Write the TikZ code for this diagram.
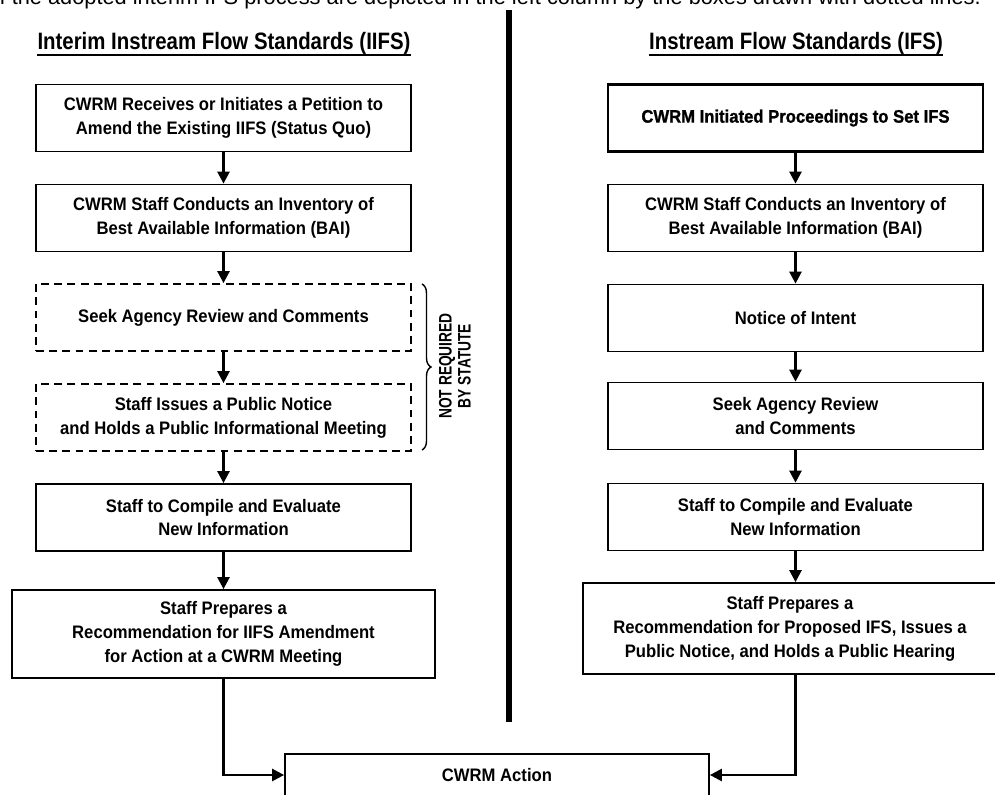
\documentclass[tikz,border=0pt]{standalone}
\usepackage{fontspec}
\setmainfont{Liberation Sans}[FakeStretch=0.92]
\newfontfamily\titlefont{Liberation Sans}[FakeStretch=0.86]
\newfontfamily\narrowfont{Liberation Sans}[FakeStretch=0.76]
\newfontfamily\heavyfont{Liberation Sans}[FakeStretch=0.92, FakeBold=1.2]
\newfontfamily\plainfont{Liberation Sans}
\usetikzlibrary{arrows.meta, decorations.pathreplacing}

\begin{document}
\begin{tikzpicture}[
    x=0.2mm, y=-0.2mm,
    every node/.style={font=\bfseries\fontsize{10.3}{13.6}\selectfont, align=center},
    % Process box
    box/.style={draw, line width=1pt, minimum width=75mm, minimum height=13.4mm, inner sep=0pt},
    % Step not required by statute
    dashbox/.style={box, dash pattern=on 4.5pt off 3pt},
    % Flow arrow
    arrow/.style={-{Triangle[length=2.4mm, width=2.4mm]}, line width=1.4pt},
    heading/.style={font=\titlefont\bfseries\fontsize{13.5}{16}\selectfont, anchor=base, inner sep=0pt},
    underline/.style={line width=0.9pt}
]
\useasboundingbox (0,0) rectangle (995,795);

% === CUT-OFF TEXT LINE AT THE TOP ===
\node[font=\plainfont\fontsize{12.4}{14}\selectfont, anchor=base east] (caption) at (987,5)
    {of the adopted interim IFS process are depicted in the left column by the boxes drawn with dotted lines.};

% === COLUMN DIVIDER ===
\coordinate (divtop) at (509,10);
\coordinate (divbot) at (509,722);
\draw[line width=3.4pt] (divtop) -- (divbot);

% === LEFT COLUMN: IIFS ===
\node[heading] (titleL) at (224,50) {Interim Instream Flow Standards (IIFS)};
\draw[underline] ([yshift=-3pt]titleL.base west) -- ([yshift=-3pt]titleL.base east);

\node[box] (L1) at (223.5,118) {CWRM Receives or Initiates a Petition to\\Amend the Existing IIFS (Status Quo)};
\node[box] (L2) at (223.5,218) {CWRM Staff Conducts an Inventory of\\Best Available Information (BAI)};
\node[dashbox] (L3) at (223.5,317.5) {Seek Agency Review and Comments};
\node[dashbox] (L4) at (223.5,417.5) {Staff Issues a Public Notice\\and Holds a Public Informational Meeting};
\node[box] (L5) at (223.5,517.5) {Staff to Compile and Evaluate\\New Information};
\node[box, minimum width=84.6mm, minimum height=17.6mm] (L6) at (223.5,634)
    {Staff Prepares a\\Recommendation for IIFS Amendment\\for Action at a CWRM Meeting};

% Brace for the two optional steps
\coordinate (bracetop) at (422,284);
\coordinate (bracebot) at (422,450);
\draw[line width=0.8pt, decorate, decoration={brace, amplitude=1.8mm}] (bracetop) -- (bracebot);
\node[font=\narrowfont\bfseries\fontsize{10.3}{10.8}\selectfont, rotate=90] (statute) at (455,366)
    {NOT REQUIRED\\BY STATUTE};

% === RIGHT COLUMN: IFS ===
\node[heading] (titleR) at (796,50) {Instream Flow Standards (IFS)};
\draw[underline] ([yshift=-3pt]titleR.base west) -- ([yshift=-3pt]titleR.base east);

\node[box, line width=1.5pt, font=\heavyfont\bfseries\fontsize{10.3}{13.6}\selectfont] (R1) at (795.5,118)
    {CWRM Initiated Proceedings to Set IFS};
\node[box] (R2) at (795.5,218) {CWRM Staff Conducts an Inventory of\\Best Available Information (BAI)};
\node[box] (R3) at (795.5,318) {Notice of Intent};
\node[box] (R4) at (795.5,416) {Seek Agency Review\\and Comments};
\node[box] (R5) at (795.5,517) {Staff to Compile and Evaluate\\New Information};
\node[box, minimum width=82.8mm, minimum height=18.2mm] (R6) at (790,628.5)
    {Staff Prepares a\\Recommendation for Proposed IFS, Issues a\\Public Notice, and Holds a Public Hearing};

% === FINAL STEP ===
\node[box, minimum width=84.8mm, minimum height=8.4mm] (action) at (497,775) {CWRM Action};

% === ARROWS ===
\foreach \a/\b in {L1/L2, L2/L3, L3/L4, L4/L5, L5/L6, R1/R2, R2/R3, R3/R4, R4/R5, R5/R6}
    \draw[arrow] (\a) -- (\a |- \b.north);

\draw[arrow] (L6) |- (action.west);
\draw[arrow] (R6.south -| R5) |- (action.east);

\end{tikzpicture}
\end{document}
